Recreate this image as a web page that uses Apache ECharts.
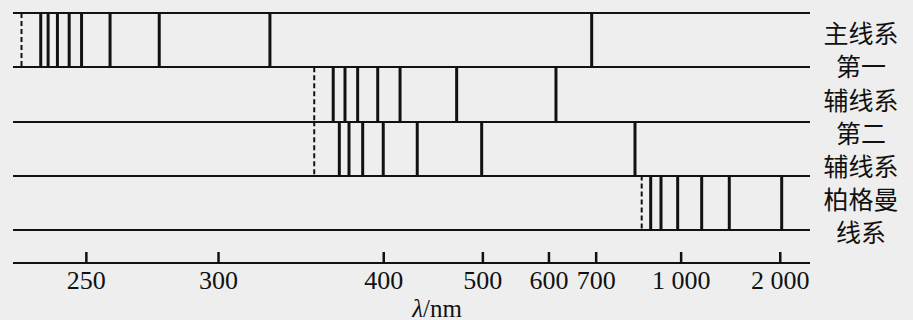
<!DOCTYPE html>
<html>
<head>
<meta charset="utf-8">
<script src="https://cdn.jsdelivr.net/npm/echarts@6/dist/echarts.min.js"></script>
<style>
html,body{margin:0;padding:0;background:#eeeeee;}
#chart{width:913px;height:320px;}
</style>
</head>
<body>
<div id="chart"></div>
<script>
// Wavelengths (nm)
const tickLabelsNm = [250, 300, 400, 500, 600, 700, 1000, 2000];
const seriesLabels = ['主线系', '第一', '辅线系', '第二', '辅线系', '柏格曼', '线系'];

const principalNm = [236.4, 238.5, 241.2, 244.7, 248.5, 257.7, 275.3, 325.3, 689.1];
const principalLimitNm = 231.1;
const sharpNm = [363.0, 371.0, 380.0, 395.2, 413.6, 469.0, 613.0];
const sharpLimitNm = 350.8;
const diffuseNm = [367.1, 373.8, 383.7, 399.6, 429.0, 498.5, 811.2];
const diffuseLimitNm = 350.8;
const bergmannNm = [866.9, 907.8, 982.9, 1115.7, 1320.8, 2029.3];
const bergmannLimitNm = 834.1;

// axis is linear in wavenumber (1/λ, in μm^-1)
const toU = nm => 1000 / nm;
const bands = [
  [principalNm, principalLimitNm],
  [sharpNm, sharpLimitNm],
  [diffuseNm, diffuseLimitNm],
  [bergmannNm, bergmannLimitNm]
];
const BAND_PX = 54.125;          // height of one band row
const AXIS_GAP_PX = 33.5;        // gap between last band and the wavelength axis
const yMax = 4 + AXIS_GAP_PX / BAND_PX;

const lineData = [];
bands.forEach(([lines, limit], b) => {
  lineData.push([toU(limit), b, 1]);
  lines.forEach(nm => lineData.push([toU(nm), b, 0]));
});
tickLabelsNm.forEach(nm => lineData.push([toU(nm), yMax, 2]));
const labelU = tickLabelsNm.map(toU);

const ink = '#111111';
const chart = echarts.init(document.getElementById('chart'), null, {renderer: 'svg'});
chart.setOption({
  backgroundColor: '#eeeeee',
  animation: false,
  grid: {left: 13, width: 797, top: 13, height: 4 * BAND_PX + AXIS_GAP_PX},
  xAxis: {
    type: 'value', min: 0.35, max: 4.37, inverse: true, position: 'bottom',
    axisLine: {show: false},
    axisTick: {show: false},
    axisLabel: {
      show: true, customValues: labelU, margin: 4,
      fontFamily: 'Liberation Serif', fontSize: 26, color: ink,
      formatter: v => String(Math.round(1000 / v)).replace(/\B(?=(\d{3})+(?!\d))/g, ' ')
    },
    splitLine: {show: false}
  },
  yAxis: {
    type: 'value', min: 0, max: yMax, interval: 1, inverse: true,
    axisLine: {show: false}, axisTick: {show: false}, axisLabel: {show: false},
    splitLine: {show: true, lineStyle: {color: ink, width: 2}}
  },
  series: [
    {
      type: 'custom',
      clip: false,
      z: 10,
      data: lineData,
      renderItem: (params, api) => {
        const u = api.value(0), b = api.value(1), kind = api.value(2);
        const p1 = api.coord([u, b]);
        if (kind === 2) {
          return {
            type: 'line',
            shape: {x1: p1[0], y1: p1[1] - 11, x2: p1[0], y2: p1[1]},
            style: {stroke: ink, lineWidth: 2.5}
          };
        }
        const p2 = api.coord([u, b + 1]);
        return {
          type: 'line',
          shape: {x1: p1[0], y1: p1[1], x2: p2[0], y2: p2[1]},
          style: {stroke: ink, lineWidth: kind ? 2 : 3, lineDash: kind ? [5, 3] : null}
        };
      }
    }
  ],
  graphic: [
    {
      type: 'text', x: 861, y: 15.5,
      style: {
        text: seriesLabels.join('\n'), align: 'center', verticalAlign: 'top',
        fontFamily: 'Noto Sans CJK SC', fontSize: 25, lineHeight: 33.2, fill: ink
      }
    },
    {
      type: 'text', x: 437, y: 308,
      style: {
        text: '{i|λ}/nm', align: 'center', verticalAlign: 'middle',
        fontFamily: 'Liberation Serif', fontSize: 25, fill: ink,
        rich: {i: {fontFamily: 'Liberation Serif', fontStyle: 'italic', fontSize: 25, fill: ink}}
      }
    }
  ]
});
</script>
</body>
</html>
